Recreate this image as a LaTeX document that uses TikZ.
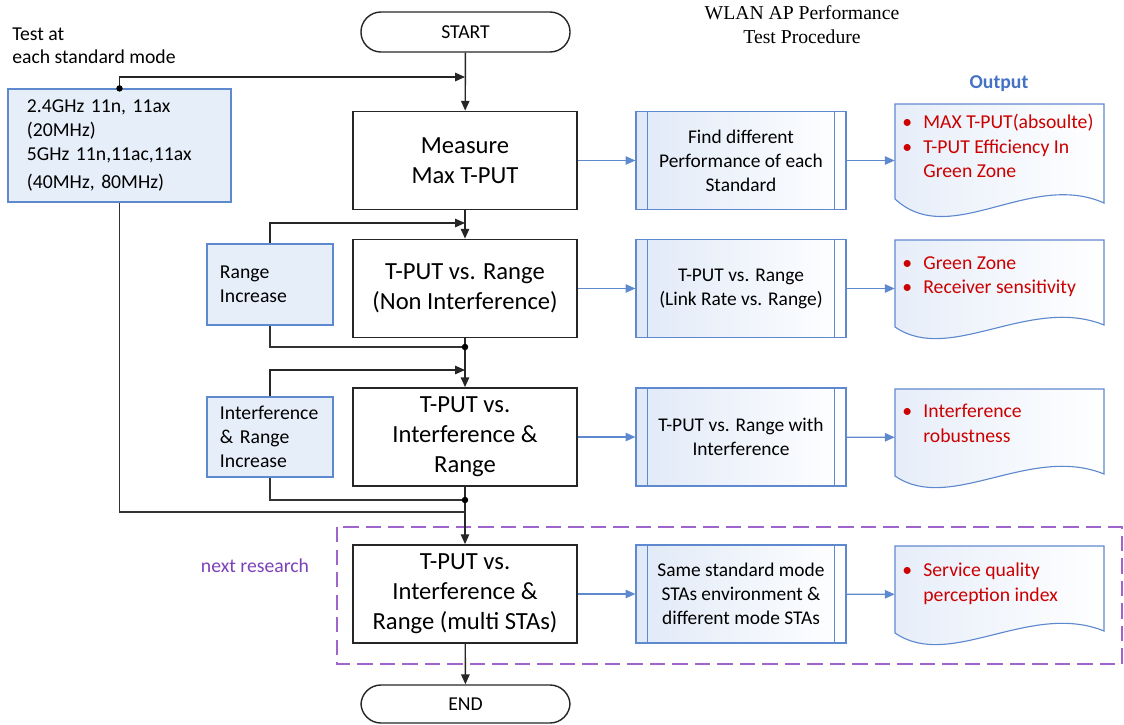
\documentclass[tikz,border=0pt]{standalone}
\usepackage{fontspec}
\setmainfont{Carlito}
\newfontfamily\titlefont{Liberation Serif}
\usetikzlibrary{positioning, arrows.meta}

\definecolor{lineblue}{RGB}{95,137,206}
\definecolor{fillblue}{RGB}{214,226,245}
\definecolor{outred}{RGB}{204,0,0}
\definecolor{purp}{RGB}{160,100,205}
\definecolor{labpurp}{RGB}{125,65,185}
\definecolor{headblue}{RGB}{68,114,196}

\newcommand{\itm}{\makebox[15pt][l]{\textbullet}}
\newcommand{\cnt}{\hspace*{15pt}}

\tikzset{
  termbox/.style={draw=black!85, line width=1pt, rounded corners=0.5cm,
    minimum width=5.225cm, minimum height=1cm, font=\fontsize{14}{17}\selectfont},
  mainbox/.style={draw=black!85, line width=1.2pt, minimum width=5.6cm,
    minimum height=2.45cm, align=center, font=\fontsize{17.5}{21.3}\selectfont},
  procbox/.style={draw=lineblue, line width=0.8pt, left color=fillblue!75, right color=white,
    minimum width=5.25cm, minimum height=2.45cm, align=center,
    font=\fontsize{13.8}{17}\selectfont},
  loopbox/.style={draw=lineblue, line width=0.8pt, fill=fillblue!60, align=left,
    font=\fontsize{14}{17}\selectfont},
  docframe/.style={minimum width=5.225cm, minimum height=2.425cm, inner sep=0pt},
  docshape/.style={draw=lineblue, line width=0.8pt, left color=fillblue!60, right color=white},
  bullets/.style={anchor=north west, inner sep=0pt, align=left, text=outred,
    font=\fontsize{14}{17.5}\selectfont},
  flow/.style={draw=black!85, line width=1pt, -{Triangle[length=7pt, width=6pt]}},
  joint/.style={draw=black!80, line width=1pt},
  outflow/.style={draw=lineblue, line width=1pt, -{Triangle[length=7pt, width=6pt]}}
}

\begin{document}
\begin{tikzpicture}[x=0.025cm, y=-0.025cm]
    \useasboundingbox (0,0) rectangle (1124,724);

    % titles
    \node[align=center, font=\titlefont\fontsize{14}{17}\selectfont] (title) at (802,25) {WLAN AP Performance\\Test Procedure};
    \node[align=left, anchor=west, inner sep=0pt, font=\fontsize{14}{16.5}\selectfont] (note) at (12,46) {Test at\\each standard mode};
    \node[text=headblue, font=\bfseries\fontsize{14}{17}\selectfont] (head) at (999,84) {Output};

    % next research frame
    \draw[purp, line width=1.4pt, dash pattern=on 11pt off 5pt] (337,527) rectangle (1122,664);
    \node[text=labpurp, font=\fontsize{14}{17}\selectfont] (nextlab) at (255,566) {next research};

    % main column
    \node[termbox] (start) at (465.5,32) {START};
    \node[mainbox] (m1) at (465,160.5) {Measure\\Max T-PUT};
    \node[mainbox] (m2) at (465,288.5) {T-PUT vs. Range\\(Non Interference)};
    \node[mainbox] (m3) at (465,437) {T-PUT vs.\\Interference \&\\Range};
    \node[mainbox] (m4) at (465,594) {T-PUT vs.\\Interference \&\\Range (multi STAs)};
    \node[termbox, minimum height=0.95cm] (end) at (465.5,704) {END};

    % left side boxes
    \node[loopbox, minimum width=5.575cm, minimum height=2.825cm, text width=4.625cm, inner xsep=0.475cm] (modes) at (119.5,145.5)
        {2.4GHz 11n, 11ax\\(20MHz)\\5GHz 11n,11ac,11ax\\[3.5pt](40MHz, 80MHz)};
    \node[loopbox, minimum width=3.15cm, minimum height=2.025cm, text width=2.5cm, inner xsep=0.325cm] (r1) at (270,284.5)
        {Range\\Increase};
    \node[loopbox, minimum width=3.15cm, minimum height=2cm, text width=2.5cm, inner xsep=0.325cm] (r2) at (270,437)
        {Interference\\\& Range\\Increase};

    % analysis boxes
    \node[procbox] (p1) at (741,160.5) {Find different\\Performance of each\\Standard};
    \node[procbox] (p2) at (741,288.5) {T-PUT vs. Range\\(Link Rate vs. Range)};
    \node[procbox] (p3) at (741,437) {T-PUT vs. Range with\\Interference};
    \node[procbox] (p4) at (741,594) {Same standard mode\\STAs environment \&\\different mode STAs};
    \foreach \p in {p1,p2,p3,p4}{
        \draw[lineblue, line width=0.8pt] ([xshift=0.3cm]\p.north west) -- ([xshift=0.3cm]\p.south west)
            ([xshift=-0.3cm]\p.north east) -- ([xshift=-0.3cm]\p.south east);
    }

    % output documents
    \node[docframe, minimum height=2.825cm] (o1) at (999.5,160.5) {};
    \node[docframe] (o2) at (999.5,288.5) {};
    \node[docframe] (o3) at (999.5,437.5) {};
    \node[docframe] (o4) at (999.5,594.5) {};
    \path[docshape] (895,104) -- (1104,104) -- (1104,203) .. controls (1030,170) and (950,250) .. (895,199) -- cycle;
    \path[docshape] (895,240) -- (1104,240) -- (1104,325) .. controls (1030,295) and (950,365) .. (895,327) -- cycle;
    \path[docshape] (895,389) -- (1104,389) -- (1104,474) .. controls (1030,444) and (950,514) .. (895,476) -- cycle;
    \path[docshape] (895,546) -- (1104,546) -- (1104,631) .. controls (1030,601) and (950,671) .. (895,633) -- cycle;
    \node[bullets] (b1) at (902,114) {\itm MAX T-PUT(absoulte)\\\itm T-PUT Efficiency In\\\cnt Green Zone};
    \node[bullets] (b2) at (902,256) {\itm Green Zone\\\itm Receiver sensitivity};
    \node[bullets] (b3) at (902,404) {\itm Interference\\\cnt robustness};
    \node[bullets] (b4) at (902,563) {\itm Service quality\\\cnt perception index};

    % junctions
    \coordinate (j0) at (465,77);
    \coordinate (j1) at (465,223);
    \coordinate (k1) at (465,347);
    \coordinate (j2) at (465,370);
    \coordinate (k2) at (465,500);
    \coordinate (k3) at (465,512);

    % main flow
    \draw[flow] (start) -- (m1);
    \draw[flow] (m1) -- (m2);
    \draw[flow] (m2) -- (m3);
    \draw[flow] (m3) -- (m4);
    \draw[flow] (m4) -- (end);

    % loops
    \draw[flow] (modes.north) |- (j0);
    \draw[joint] (modes.south) |- (k3);
    \draw[flow] (r1.north) |- (j1);
    \draw[joint] (r1.south) |- (k1);
    \draw[flow] (r2.north) |- (j2);
    \draw[joint] (r2.south) |- (k2);
    \fill (modes.north) circle[radius=2.3pt];
    \fill (k1) circle[radius=2.3pt];
    \fill (k2) circle[radius=2.3pt];

    % outputs
    \draw[outflow] (m1) -- (p1);
    \draw[outflow] (p1) -- (o1);
    \draw[outflow] (m2) -- (p2);
    \draw[outflow] (p2) -- (o2);
    \draw[outflow] (m3) -- (p3);
    \draw[outflow] (p3) -- (o3);
    \draw[outflow] (m4) -- (p4);
    \draw[outflow] (p4) -- (o4);
\end{tikzpicture}
\end{document}
